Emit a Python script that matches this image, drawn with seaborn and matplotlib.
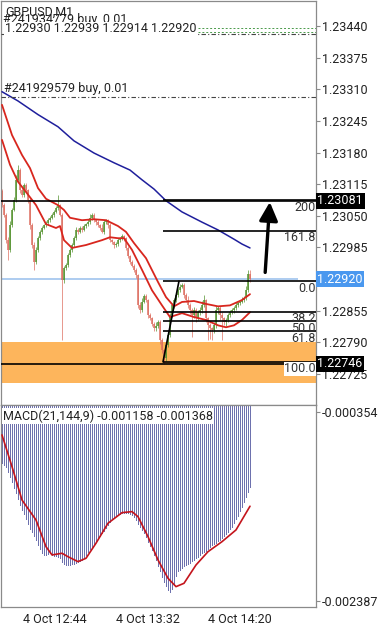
import matplotlib
matplotlib.use("Agg")
import matplotlib.pyplot as plt
import matplotlib.transforms as mtransforms
import numpy as np
import seaborn as sns

sns.set_style("white")
plt.rcParams["font.family"] = ["Roboto", "DejaVu Sans"]

# ---- price data (GBPUSD M1), one value per candle ----
first_open = 1.23100
closes = [
    1.23072, 1.23052, 1.23000, 1.22980, 1.23031, 1.23062, 1.23083, 1.23124, 1.23144, 1.23103,
    1.23093, 1.23113, 1.23103, 1.23083, 1.23031, 1.22990, 1.22955, 1.22980, 1.23004, 1.23017,
    1.23025, 1.23031, 1.23035, 1.23041, 1.23046, 1.23052, 1.23058, 1.23066, 1.23072, 1.23052,
    1.22918, 1.22943, 1.22949, 1.22969, 1.22980, 1.22990, 1.23004, 1.23021, 1.23017, 1.23025,
    1.23021, 1.23029, 1.23033, 1.23037, 1.23046, 1.23052, 1.23041, 1.23037, 1.23031, 1.23025,
    1.23017, 1.23037, 1.23041, 1.23031, 1.23000, 1.22996, 1.22990, 1.22992, 1.23000, 1.23004,
    1.23008, 1.23004, 1.22984, 1.22967, 1.22955, 1.22947, 1.22939, 1.22928, 1.22866, 1.22856,
    1.22873, 1.22885, 1.22877, 1.22846, 1.22840, 1.22827, 1.22819, 1.22823, 1.22832, 1.22795,
    1.22774, 1.22757, 1.22784, 1.22805, 1.22846, 1.22866, 1.22877, 1.22887, 1.22897, 1.22904,
    1.22908, 1.22887, 1.22877, 1.22866, 1.22856, 1.22846, 1.22856, 1.22840, 1.22852, 1.22856,
    1.22866, 1.22877, 1.22840, 1.22825, 1.22819, 1.22815, 1.22825, 1.22856, 1.22860, 1.22846,
    1.22840, 1.22832, 1.22836, 1.22846, 1.22852, 1.22856, 1.22860, 1.22866, 1.22871, 1.22873,
    1.22877, 1.22881, 1.22897, 1.22930, 1.22920,
]
# wick lengths above / below the body, in points (0.00001)
wick_up_pts = [
    5, 4, 3, 6, 8, 5, 6, 10, 10, 4, 6, 5, 4, 3, 3, 4, 6, 5, 4, 3, 4, 3, 5, 4, 3,
    4, 3, 5, 21, 3, 4, 3, 5, 4, 3, 5, 4, 6, 3, 4, 5, 4, 3, 6, 8, 3, 4, 3, 4, 3,
    8, 4, 3, 3, 4, 3, 3, 4, 5, 3, 4, 3, 3, 4, 3, 5, 3, 3, 3, 6, 8, 5, 4, 3, 4,
    3, 4, 8, 3, 3, 3, 3, 6, 4, 4, 5, 4, 3, 4, 6, 4, 3, 4, 8, 5, 4, 6, 5, 4, 6,
    8, 10, 3, 3, 4, 3, 6, 8, 5, 4, 6, 3, 4, 5, 4, 5, 4, 6, 5, 4, 6, 5, 8, 9, 9,
]
wick_dn_pts = [
    4, 5, 6, 21, 5, 4, 3, 4, 5, 6, 4, 5, 4, 6, 8, 6, 16, 5, 4, 3, 4, 3, 4, 3, 4,
    3, 4, 3, 4, 3, 123, 6, 5, 4, 3, 4, 5, 3, 4, 3, 4, 3, 4, 3, 3, 4, 3, 5, 4, 4,
    3, 4, 3, 5, 4, 3, 6, 4, 3, 4, 3, 5, 4, 3, 4, 3, 4, 5, 6, 5, 4, 3, 4, 6, 5,
    4, 6, 5, 4, 8, 6, 11, 5, 4, 3, 4, 5, 4, 3, 4, 3, 6, 5, 6, 8, 45, 6, 8, 5, 6,
    5, 4, 8, 30, 22, 20, 6, 5, 8, 10, 45, 6, 8, 5, 4, 3, 5, 4, 3, 4, 3, 4, 3, 4, 6,
]

# ---- moving averages, sampled at candle indices ----
blue_ma_idx = [0, 8, 18, 28, 36, 46, 56, 64, 70, 76, 82, 90, 100, 108, 116, 120, 124]
blue_ma = [1.23305, 1.23286, 1.23258, 1.23233, 1.23204, 1.23179, 1.23159, 1.23144, 1.23124,
           1.23105, 1.23081, 1.23058, 1.23037, 1.23021, 1.23002, 1.22992, 1.22984]
slow_ma_idx = [0, 5, 10, 14, 18, 22, 28, 31, 34, 40, 46, 52, 58, 62, 66, 72, 78, 82, 86, 90,
               96, 102, 108, 114, 120, 124]
slow_ma = [1.23278, 1.23216, 1.23175, 1.23148, 1.23107, 1.23085, 1.23072, 1.23062, 1.23046,
           1.23041, 1.23043, 1.23041, 1.23029, 1.23017, 1.22994, 1.22963, 1.22914, 1.22883,
           1.22864, 1.22873, 1.22875, 1.22869, 1.22864, 1.22866, 1.22877, 1.22889]
fast_ma_idx = [0, 4, 8, 12, 17, 22, 27, 29, 31, 35, 42, 50, 54, 58, 61, 65, 70, 75, 80, 84,
               90, 96, 102, 108, 112, 116, 120, 124]
fast_ma = [1.23206, 1.23155, 1.23120, 1.23099, 1.23072, 1.23033, 1.23025, 1.23029, 1.23000,
           1.22984, 1.22990, 1.23000, 1.23006, 1.23004, 1.23004, 1.22980, 1.22939, 1.22897,
           1.22866, 1.22842, 1.22850, 1.22842, 1.22836, 1.22825, 1.22821, 1.22825, 1.22836,
           1.22852]

# ---- MACD(21,144,9) ----
macd_main = [
    -0.000906, -0.000925, -0.000950, -0.001000, -0.001050, -0.001110, -0.001170, -0.001230,
    -0.001290, -0.001350, -0.001408, -0.001450, -0.001500, -0.001560, -0.001610, -0.001650,
    -0.001690, -0.001730, -0.001780, -0.001830, -0.001870, -0.001890, -0.001895, -0.001880,
    -0.001875, -0.001890, -0.001900, -0.001905, -0.001910, -0.001930, -0.001970, -0.001985,
    -0.001995, -0.002000, -0.001998, -0.001990, -0.001985, -0.001975, -0.001965, -0.001955,
    -0.001946, -0.001920, -0.001890, -0.001860, -0.001830, -0.001803, -0.001775, -0.001745,
    -0.001715, -0.001690, -0.001659, -0.001630, -0.001600, -0.001570, -0.001540, -0.001510,
    -0.001485, -0.001470, -0.001460, -0.001450, -0.001445, -0.001440, -0.001440, -0.001444,
    -0.001455, -0.001465, -0.001480, -0.001520, -0.001560, -0.001590, -0.001623, -0.001660,
    -0.001700, -0.001750, -0.001800, -0.001838, -0.001890, -0.001950, -0.002010, -0.002070,
    -0.002126, -0.002180, -0.002230, -0.002270, -0.002287, -0.002260, -0.002210, -0.002120,
    -0.002070, -0.002050, -0.002035, -0.002015, -0.002000, -0.001985, -0.001975, -0.001960,
    -0.001945, -0.001930, -0.001910, -0.001890, -0.001874, -0.001860, -0.001845, -0.001825,
    -0.001805, -0.001785, -0.001770, -0.001760, -0.001745, -0.001730, -0.001710, -0.001690,
    -0.001665, -0.001640, -0.001610, -0.001588, -0.001550, -0.001510, -0.001470, -0.001420,
    -0.001373, -0.001320, -0.001270, -0.001210, -0.001158,
]
signal_idx = [0, 5, 10, 17, 22, 25, 30, 33, 38, 42, 47, 53, 60, 65, 68, 73, 78, 83, 87, 91,
              97, 103, 110, 117, 124]
signal = [-0.000601, -0.000942, -0.001301, -0.001516, -0.001803, -0.001892, -0.001874,
          -0.001911, -0.001964, -0.001928, -0.001766, -0.001551, -0.001437, -0.001426,
          -0.001480, -0.001695, -0.001946, -0.002143, -0.002233, -0.002197, -0.002000,
          -0.001857, -0.001749, -0.001623, -0.001368]

# ---- objects on the chart ----
price_ticks = [1.23440, 1.23375, 1.23310, 1.23245, 1.23180, 1.23115, 1.23050, 1.22985,
               1.22855, 1.22790, 1.22725]
bid_price = 1.22920
hline_prices = [1.23081, 1.22746]
order_lines = [1.23423, 1.23295]
order_labels = ["#241934779 buy, 0.01", "#241929579 buy, 0.01"]
tp_lines = [1.23435, 1.23428]
zone = (1.22707, 1.22791)
fib_labels = ["0.0", "38.2", "50.0", "61.8", "100.0", "161.8", "200"]
fib_prices = [1.22916, 1.22853, 1.22833, 1.22813, 1.22750, 1.23019, 1.23082]
fib_low, fib_high = 1.22750, 1.22916
fib_start = 80.5
arrow_from = (131.5, 1.22928)
arrow_to = (134.0, 1.23084)
time_ticks = [10.5, 57, 103]
time_labels = ["4 Oct 12:44", "4 Oct 13:32", "4 Oct 14:20"]

n = len(closes)
x = np.arange(n)
opens = [first_open] + closes[:-1]
body_hi = np.maximum(opens, closes)
body_lo = np.minimum(opens, closes)
highs = body_hi + np.array(wick_up_pts) * 1e-5
lows = body_lo - np.array(wick_dn_pts) * 1e-5
bull = np.array(closes) >= np.array(opens)

W, H = 378, 625
fig = plt.figure(figsize=(W / 100, H / 100), dpi=100)
ax = fig.add_axes([1 / W, 1 - 405 / H, 315 / W, 404 / H])
axm = fig.add_axes([1 / W, 1 - 607 / H, 315 / W, 202 / H], sharex=ax)

ax.set_xlim(-0.5, 157)
ax.set_ylim(1.226613, 1.234914)
axm.set_ylim(-0.002452, -0.000279)

# supply/demand zone
ax.axhspan(zone[0], zone[1], color="#fdb55c", zorder=0, lw=0)

# candles
cols = np.where(bull, "#55922f", "#dd6e60")
ax.vlines(x, lows, highs, colors=cols, lw=0.5, zorder=2)
ax.vlines(x, body_lo, np.maximum(body_hi, body_lo + 1.5e-5), colors=cols, lw=1.1, zorder=2)

# moving averages
sns.lineplot(x=blue_ma_idx, y=blue_ma, ax=ax, color="#1f1f9c", lw=1.1, zorder=3)
sns.lineplot(x=slow_ma_idx, y=slow_ma, ax=ax, color="#d8261e", lw=1.3, zorder=3)
sns.lineplot(x=fast_ma_idx, y=fast_ma, ax=ax, color="#d8261e", lw=1.3, zorder=3)

# horizontal lines
ax.hlines(bid_price, -0.5, 148, color="#9fc4ee", lw=1.2, zorder=1)
for p in hline_prices:
    ax.axhline(p, color="black", lw=1.2, zorder=4)
for p in order_lines:
    ax.axhline(p, color="#444444", lw=0.8, ls=(0, (4, 2, 1, 2)), zorder=4)
for p in tp_lines:
    ax.hlines(p, 98, 157, color="#4a9a4a", lw=0.7, ls=(0, (2, 2)), zorder=4)

# fibonacci
for lab, p in zip(fib_labels, fib_prices):
    ax.hlines(p, fib_start, 157, color="black", lw=1.2, zorder=4)
    bb = dict(fc="white", ec="none", pad=0.3) if lab == "100.0" else None
    ax.text(156.8, p - 0.00001, lab, ha="right", va="top", fontsize=9, color="#333333",
            zorder=5, bbox=bb)
ax.plot([fib_start, fib_start + 8], [fib_low, fib_high], color="black", lw=1.2, zorder=4)

# arrow
ax.annotate("", xy=arrow_to, xytext=arrow_from,
            arrowprops=dict(arrowstyle="-|>,head_length=0.7,head_width=0.35",
                            color="black", lw=2.4, mutation_scale=16), zorder=6)

# axes style
for a in (ax, axm):
    for s in a.spines.values():
        s.set_color("#8a8a8a")
        s.set_linewidth(0.9)
    a.yaxis.tick_right()
    a.tick_params(axis="y", length=3, width=0.8, color="#8a8a8a", labelsize=9, pad=1,
                  labelcolor="#222222")
    a.set_xlabel("")
    a.set_ylabel("")
ax.set_yticks(price_ticks)
ax.set_yticklabels([f"{p:.5f}" for p in price_ticks])
ax.tick_params(axis="x", bottom=False, labelbottom=False)

trans = mtransforms.blended_transform_factory(ax.transAxes, ax.transData)
ax.text(1.004, bid_price, f"{bid_price:.5f}", transform=trans, ha="left", va="center",
        fontsize=9, color="white", bbox=dict(fc="#4a98ef", ec="none", pad=1.2), clip_on=False)
for p in hline_prices:
    ax.text(1.004, p, f"{p:.5f}", transform=trans, ha="left", va="center", fontsize=9,
            color="white", bbox=dict(fc="black", ec="none", pad=1.2), clip_on=False)

# MACD panel: thin 1px bars with gaps
axm.vlines(x, 0, macd_main, color="#6d71ae", lw=0.5, antialiased=False, zorder=1)
sns.lineplot(x=signal_idx, y=signal, ax=axm, color="#c4141c", lw=1.2, zorder=3)
axm.set_yticks([-0.000354, -0.002387])
axm.set_yticklabels(["-0.000354", "-0.002387"])
axm.set_xticks(time_ticks)
axm.set_xticklabels(time_labels, ha="left")
axm.tick_params(axis="x", length=3, width=0.8, color="#8a8a8a", labelsize=9, pad=1,
                labelcolor="#222222")
axm.text(2 / 315, 0.946, f"MACD(21,144,9) {macd_main[-1]:.6f} {signal[-1]:.6f}",
         transform=axm.transAxes, ha="left", va="center", fontsize=9, color="#222222",
         bbox=dict(fc="white", ec="none", pad=0.8), zorder=5)

# header texts
fig.text(3 / W, 1 - 20 / H, order_labels[0], ha="left", va="center", fontsize=9, color="#222222")
fig.text(5 / W, 1 - 12 / H, "GBPUSD,M1", ha="left", va="center", fontsize=9, color="#222222")
fig.text(5 / W, 1 - 29 / H,
         f"{opens[-1]:.5f} {highs[-1]:.5f} {lows[-1]:.5f} {closes[-1]:.5f}",
         ha="left", va="center", fontsize=9, color="#222222",
         bbox=dict(fc="white", ec="none", pad=0.5))
ax.text(0.008, order_lines[1] + 0.00003, order_labels[1], transform=trans, ha="left",
        va="bottom", fontsize=9, color="#222222")

fig.savefig("out.png", dpi=100)
